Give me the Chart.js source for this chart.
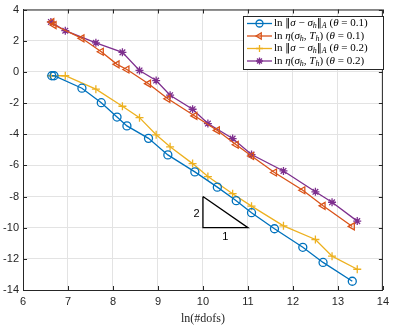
<!DOCTYPE html>
<html>
<head>
<meta charset="utf-8">
<script src="https://cdn.jsdelivr.net/npm/chart.js@4/dist/chart.umd.min.js"></script>
<style>
  body { margin: 0; background: #fff; }
</style>
</head>
<body>
<canvas id="c" width="394" height="327"></canvas>
<script>
// theta = 0.1 runs
const dofsA = [6.64, 6.69, 7.31, 7.74, 8.09, 8.31, 8.79, 9.22, 9.82, 10.32, 10.74, 11.08, 11.59, 12.22, 12.67, 13.32];
const errA  = [-0.25, -0.25, -1.05, -1.98, -2.90, -3.47, -4.27, -5.33, -6.42, -7.40, -8.27, -9.04, -10.07, -11.26, -12.23, -13.44];
const estA  = [3.2, 3.0, 2.15, 1.29, 0.48, 0.15, -0.76, -1.73, -2.83, -3.76, -4.68, -5.40, -6.46, -7.60, -8.60, -9.92];
// theta = 0.2 runs
const dofsB = [6.62, 6.94, 7.62, 8.21, 8.59, 8.96, 9.27, 9.77, 10.11, 10.66, 11.08, 11.79, 12.50, 12.87, 13.43];
const errB  = [-0.25, -0.25, -1.11, -2.21, -2.94, -4.04, -4.81, -5.89, -6.72, -7.82, -8.62, -9.88, -10.76, -11.83, -12.67];
const estB  = [3.2, 2.64, 1.86, 1.25, 0.09, -0.56, -1.50, -2.40, -3.32, -4.28, -5.31, -6.36, -7.70, -8.37, -9.58];

// slope triangle
const triX = [10, 10, 11, 10];
const triY = [-8, -10, -10, -8];

const xTicks = [6, 7, 8, 9, 10, 11, 12, 13, 14];
const yTicks = [-14, -12, -10, -8, -6, -4, -2, 0, 2, 4];

const colors = ['#0072BD', '#D95319', '#EDB120', '#7E2F8E'];

function pts(xs, ys) {
  return xs.map((x, i) => ({ x: x, y: ys[i] }));
}

// legend labels as rich text pieces: n normal, i italic, s sub, si sub italic, m math symbol
const legendItems = [
  { style: 'circle', rot: 0, segs: [['ln ', 'n'], ['‖', 'm'], ['σ', 'i'], [' − ', 'n'], ['σ', 'i'], ['h', 'si'], ['‖', 'm'], ['A', 'si'], [' (', 'n'], ['θ', 'i'], [' = 0.1)', 'n']] },
  { style: 'triangle', rot: -90, segs: [['ln ', 'n'], ['η', 'i'], ['(', 'n'], ['σ', 'i'], ['h', 'si'], [', ', 'n'], ['T', 'i'], ['h', 'si'], [') (', 'n'], ['θ', 'i'], [' = 0.1)', 'n']] },
  { style: 'cross', rot: 0, segs: [['ln ', 'n'], ['‖', 'm'], ['σ', 'i'], [' − ', 'n'], ['σ', 'i'], ['h', 'si'], ['‖', 'm'], ['A', 'si'], [' (', 'n'], ['θ', 'i'], [' = 0.2)', 'n']] },
  { style: 'star', rot: 0, segs: [['ln ', 'n'], ['η', 'i'], ['(', 'n'], ['σ', 'i'], ['h', 'si'], [', ', 'n'], ['T', 'i'], ['h', 'si'], [') (', 'n'], ['θ', 'i'], [' = 0.2)', 'n']] }
];

const serif = '"Liberation Serif", "DejaVu Serif", serif';

function drawRich(ctx, segs, x, y) {
  segs.forEach(s => {
    let t = s[0], k = s[1];
    let size = k.startsWith('s') ? 8 : 11;
    let it = k.endsWith('i') ? 'italic ' : '';
    ctx.font = k === 'm' ? '10px "DejaVu Sans", sans-serif' : it + size + 'px ' + serif;
    let dy = k.startsWith('s') ? 2.5 : 0;
    ctx.fillText(t, x, y + dy);
    x += ctx.measureText(t).width;
  });
}

const boxPlugin = {
  id: 'box',
  afterDraw(chart) {
    const ctx = chart.ctx;
    const a = chart.chartArea;
    const xs = chart.scales.x, ys = chart.scales.y;
    ctx.save();
    ctx.strokeStyle = '#262626';
    ctx.lineWidth = 1;
    ctx.strokeRect(a.left + 0.5, a.top + 0.5, a.right - a.left - 1, a.bottom - a.top);
    ctx.beginPath();
    xTicks.forEach(v => {
      let p = Math.round(xs.getPixelForValue(v)) + 0.5;
      ctx.moveTo(p, a.bottom); ctx.lineTo(p, a.bottom - 4);
      ctx.moveTo(p, a.top); ctx.lineTo(p, a.top + 4);
    });
    yTicks.forEach(v => {
      let p = Math.round(ys.getPixelForValue(v)) + 0.5;
      ctx.moveTo(a.left, p); ctx.lineTo(a.left + 4, p);
      ctx.moveTo(a.right, p); ctx.lineTo(a.right - 4, p);
    });
    ctx.stroke();

    // slope labels
    ctx.fillStyle = '#000';
    ctx.font = '11px "Liberation Sans", Arial, sans-serif';
    ctx.textAlign = 'center';
    ctx.textBaseline = 'middle';
    ctx.fillText('2', xs.getPixelForValue(9.86), ys.getPixelForValue(-9.1));
    ctx.fillText('1', xs.getPixelForValue(10.5), ys.getPixelForValue(-10.6));

    // legend
    const lx = 243, ly = 16, lw = 140, lh = 53;
    ctx.fillStyle = '#fff';
    ctx.fillRect(lx, ly, lw, lh);
    ctx.strokeStyle = '#262626';
    ctx.lineWidth = 1;
    ctx.strokeRect(lx + 0.5, ly + 0.5, lw, lh);
    legendItems.forEach((it, i) => {
      const y = ly + 7.5 + i * 12.5;
      ctx.strokeStyle = colors[i];
      ctx.lineWidth = 1.3;
      ctx.beginPath();
      ctx.moveTo(lx + 4, y); ctx.lineTo(lx + 29, y);
      ctx.stroke();
      ctx.fillStyle = 'rgba(0,0,0,0)';
      Chart.helpers.drawPoint(ctx, { pointStyle: it.style, radius: 3.5, rotation: it.rot, borderWidth: 1.3 }, lx + 16.5, y);
      ctx.fillStyle = '#000';
      ctx.textAlign = 'left';
      ctx.textBaseline = 'middle';
      drawRich(ctx, it.segs, lx + 31, y);
    });
    ctx.restore();
  }
};

function series(label, data, i, style, rot) {
  return {
    label: label,
    data: data,
    borderColor: colors[i],
    backgroundColor: 'rgba(0,0,0,0)',
    pointBorderColor: colors[i],
    pointBackgroundColor: 'rgba(0,0,0,0)',
    pointStyle: style,
    pointRotation: rot,
    pointRadius: 4,
    pointBorderWidth: 1.3,
    borderWidth: 1.3,
    showLine: true,
    tension: 0
  };
}

new Chart(document.getElementById('c'), {
  type: 'scatter',
  data: {
    datasets: [
      series('err 0.1', pts(dofsA, errA), 0, 'circle', 0),
      series('est 0.1', pts(dofsA, estA), 1, 'triangle', -90),
      series('err 0.2', pts(dofsB, errB), 2, 'cross', 0),
      series('est 0.2', pts(dofsB, estB), 3, 'star', 0),
      {
        label: 'slope',
        data: pts(triX, triY),
        borderColor: '#000',
        borderWidth: 1.3,
        pointRadius: 0,
        showLine: true
      }
    ]
  },
  options: {
    responsive: false,
    animation: false,
    devicePixelRatio: 1,
    layout: { padding: { top: 1, right: 10, left: 0, bottom: 0 } },
    plugins: { legend: { display: false }, tooltip: { enabled: false } },
    scales: {
      x: {
        type: 'linear', min: 6, max: 14,
        afterBuildTicks: s => { s.ticks = xTicks.map(v => ({ value: v })); },
        afterFit: s => { s.height = 37; },
        grid: { color: '#e3e3e3', drawTicks: false },
        border: { color: '#262626' },
        ticks: { color: '#262626', padding: 5, font: { size: 11, family: '"Liberation Sans", Arial, sans-serif' } },
        title: { display: true, text: 'ln(#dofs)', color: '#262626', padding: { top: 0, bottom: 1 }, font: { size: 12, family: serif } }
      },
      y: {
        type: 'linear', min: -14, max: 4,
        afterBuildTicks: s => { s.ticks = yTicks.map(v => ({ value: v })); },
        afterFit: s => { s.width = 23; },
        grid: { color: '#e3e3e3', drawTicks: false },
        border: { color: '#262626' },
        ticks: { color: '#262626', padding: 4, font: { size: 11, lineHeight: 1, family: '"Liberation Sans", Arial, sans-serif' } }
      }
    }
  },
  plugins: [boxPlugin]
});
</script>
</body>
</html>
